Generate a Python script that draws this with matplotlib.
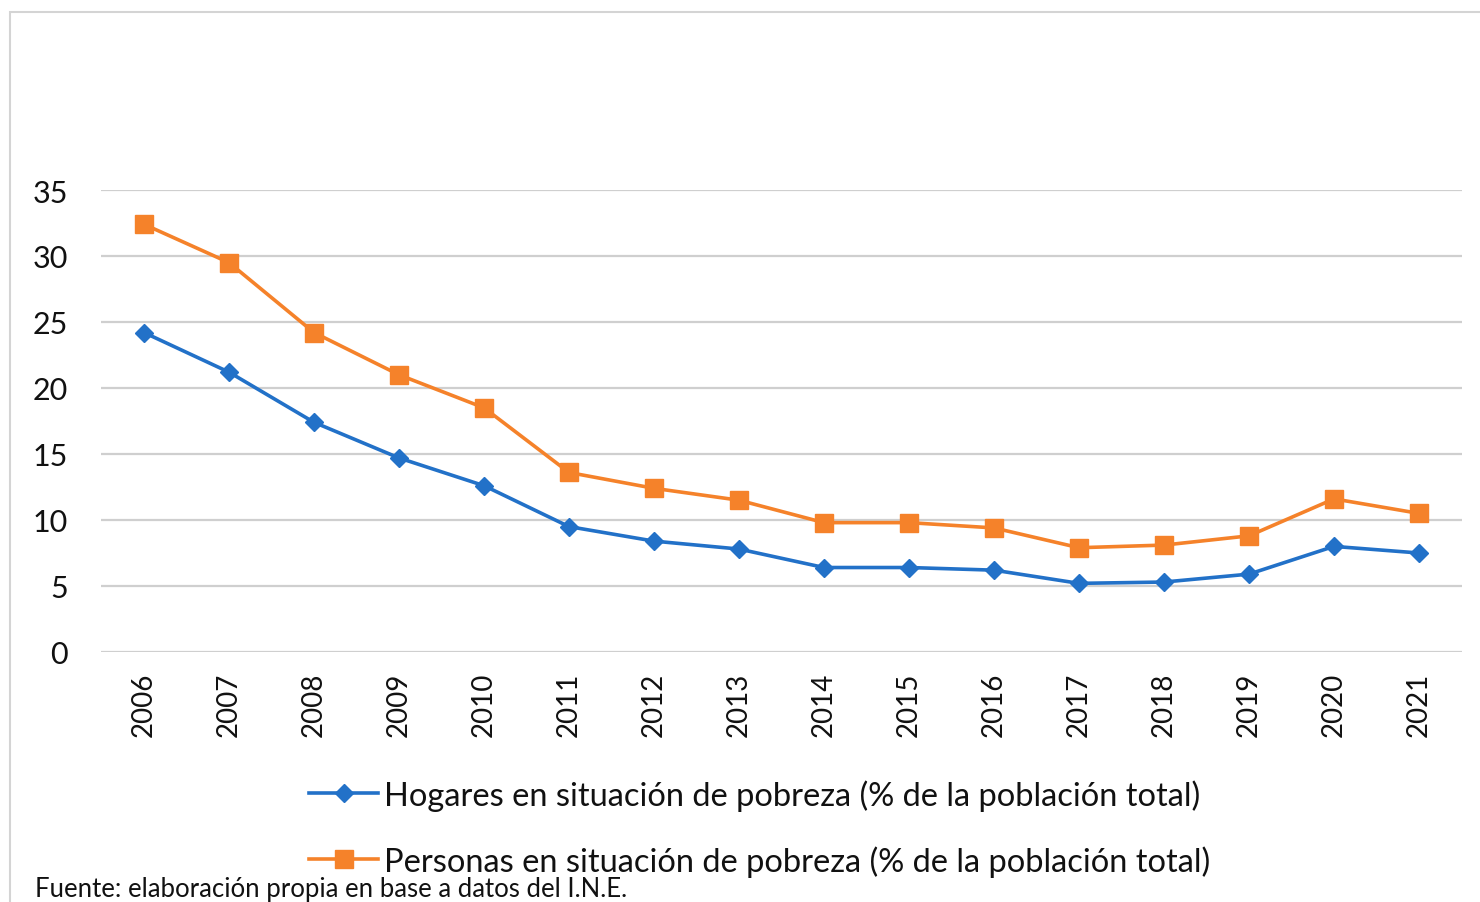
import matplotlib.pyplot as plt
from matplotlib.patches import Rectangle

plt.rcParams['font.family'] = ['Lato', 'DejaVu Sans']

# datos
anios = ['2006', '2007', '2008', '2009', '2010', '2011', '2012', '2013',
         '2014', '2015', '2016', '2017', '2018', '2019', '2020', '2021']
hogares = [24.2, 21.2, 17.4, 14.7, 12.6, 9.5, 8.4, 7.8,
           6.4, 6.4, 6.2, 5.2, 5.3, 5.9, 8.0, 7.5]
personas = [32.4, 29.5, 24.2, 21.0, 18.5, 13.6, 12.4, 11.5,
            9.8, 9.8, 9.4, 7.9, 8.1, 8.8, 11.6, 10.5]

W, H = 1480, 903
fig = plt.figure(figsize=(W / 100, H / 100), dpi=100)

# marco gris del grafico (se corta por abajo y a la derecha)
fig.patches.append(Rectangle((10 / W, -0.2), 1.2, 1.2 - 13 / H, transform=fig.transFigure,
                             fill=False, edgecolor='#d4d4d4', linewidth=1.5))

ax = fig.add_axes([101.5 / W, 1 - 653 / H, 1360 / W, (653 - 191) / H])

x = range(len(anios))
ax.plot(x, hogares, color='#2271c8', linewidth=2.6, marker='D', markersize=9,
        label='Hogares en situación de pobreza (% de la población total)')
ax.plot(x, personas, color='#f5822a', linewidth=2.6, marker='s', markersize=13,
        label='Personas en situación de pobreza (% de la población total)')

ax.set_xlim(-0.5, len(anios) - 0.5)
ax.set_ylim(0, 35)
ax.set_yticks(range(0, 36, 5))
ax.set_xticks(list(x))
ax.set_xticklabels(anios, rotation=90)
ax.tick_params(axis='both', length=0, colors='#111111')
ax.tick_params(axis='x', pad=14, labelsize=20)
ax.tick_params(axis='y', pad=24, labelsize=22)
ax.grid(axis='y', color='#cfcfcf', linewidth=1.6)
ax.set_axisbelow(True)
for s in ax.spines.values():
    s.set_visible(False)

fig.legend(loc='center', bbox_to_anchor=(760 / W, 1 - 829 / H), ncol=1, frameon=False,
           fontsize=23.5, handlelength=2.1, handletextpad=0.2, labelspacing=1.05,
           labelcolor='#111111')

fig.text(35 / W, 1 - 890 / H, 'Fuente: elaboración propia en base a datos del I.N.E.',
         fontsize=18.5, va='center', ha='left', color='#111111')

fig.savefig('out.png', dpi=100)
